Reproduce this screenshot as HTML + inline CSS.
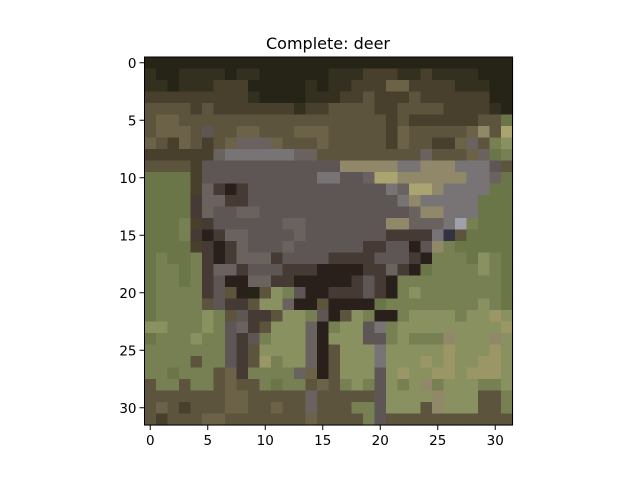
<!DOCTYPE html>
<html><head><meta charset="utf-8">
<style>
html,body{margin:0;padding:0;background:#fff;}
svg{display:block;font-family:"DejaVu Sans","Liberation Sans",sans-serif;}
</style></head>
<body>
<svg id="chart" width="640" height="478" viewBox="0 0 640 478">
<text x="328" y="49" text-anchor="middle" font-size="16">Complete: deer</text>
<g id="cells"></g>
<rect x="144.5" y="57" width="368" height="368" fill="none" stroke="#000" stroke-width="1"/>
<g id="xaxis"></g>
<g id="yaxis"></g>
</svg>
<script>
const palette = {
 D:[38,36,22], E:[52,48,32], B:[72,63,45], M:[92,84,60], N:[108,98,72],
 G:[106,118,72], H:[118,128,82], L:[138,145,96], Y:[155,150,102],
 g:[94,86,84], h:[106,98,94], d:[70,58,52], k:[42,32,27], s:[120,116,118],
 t:[145,136,106], P:[170,165,112], n:[50,50,64], w:[160,160,172], m:[110,95,95]
};
const rows = [
"DDDDDDDDDDDDDDDDDDDDDDDDDDDDDDDD",
"EDDEEEEDEEDDDDDDEEEBBBEEBEEEEDDD",
"EEDEEEBBBDDDDDEDEEBBBNNBBBBEEEDD",
"BBBBBBBBBEDDDDEEEBBMBBBMBBBBBBDD",
"MMMMBMBBBBBBBEBBMMMMBBMMMMBBBBED",
"MNNMMMMMMMMMMMMMMMMMMBMBBBBBBMMG",
"MNNNMgMMNNMMMNNNMMMMMBNMMMMMNtMP",
"NMBNMBMNhhhNMMMNMMMMMBNMMBBNhMHL",
"BBBBBBhsssssshhMMMMMMMMMhMMMNhGH",
"MMMMBggggggggggggtttttsstttsssgM",
"GGGGBggggggggggssgghPPttttttsshG",
"GGGGBhdkdggggggggggggshPPtssssGG",
"GGGGdhhddgggggggggggggstsssssGGG",
"GGGGdhgghhggggggggggggghttsssGGG",
"GGGHBdgggggghhgggggggtthhhswHGGG",
"GGGHdkdhhgggghgggggggddddsnMGGGG",
"GGGGBdkdhggghggggggddggkgtHGGGGG",
"GHGGHdkdhhhdggggddddgggdkHHHGLHG",
"GHHGHdhhdgggdddkkkkddhdkGHHHHLHG",
"GHHGHdgkkhhddkkkkkdgdkHHHHHHHHHG",
"GHHHHdgMkDMLHgkkdddgdkHLHHHHHHHG",
"GHHHHMgddMLLhkkMkkkkGHHHHHHHHLHG",
"GHHHHLHMgddMLLHgkMLHkkHLLLLHLLYL",
"LLHHHLHghdMLLLhkHLLgsHLLLLLLLLLY",
"GHHHLHHgdgHLLLhkLLLggHLHHHtLLLtL",
"HHHHHHHgdMLLLLhkMLLLsLLLLLYLLLYL",
"HHHHMHHgdMYHLLhkMLLLsLLLYLYLLYYL",
"HHGHHHMNdHHHHhNkMLLLgLYLLYYLYYYL",
"MHHMHHMNMMHGHHMNMHLHgLHLtHLLLHHL",
"MMMMMMMNNMMMMMhMMMMMgLLLLtLLLMMH",
"MNMBMMMNNMMNMMhMMMHHgLLLMtLLLMMH",
"MBMMMNNMMMMMMMNMMMMHgMMMMMMMMMMM"
];
const xTicks = [0,5,10,15,20,25,30];
const yTicks = [0,5,10,15,20,25,30];

const NS = "http://www.w3.org/2000/svg";
const x0 = 144.5, y0 = 57, W = 368, H = 368, N = 32;
const cw = W / N, ch = H / N;
function xScale(c){ return x0 + c * cw; }
function yScale(r){ return y0 + r * ch; }

const cells = document.getElementById('cells');
rows.forEach((row, r) => {
  const rr = row.padEnd(N, 'G').slice(0, N);
  for (let c = 0; c < N; c++) {
    const col = palette[rr[c]] || palette.G;
    const rect = document.createElementNS(NS, 'rect');
    rect.setAttribute('x', xScale(c).toFixed(2));
    rect.setAttribute('y', yScale(r).toFixed(2));
    rect.setAttribute('width', (cw + 0.6).toFixed(2));
    rect.setAttribute('height', (ch + 0.6).toFixed(2));
    rect.setAttribute('fill', 'rgb(' + col.join(',') + ')');
    
    
    cells.appendChild(rect);
  }
});

const xa = document.getElementById('xaxis');
xTicks.forEach(v => {
  const x = xScale(v + 0.5);
  const l = document.createElementNS(NS, 'line');
  l.setAttribute('x1', x); l.setAttribute('x2', x);
  l.setAttribute('y1', y0 + H); l.setAttribute('y2', y0 + H + 5);
  l.setAttribute('stroke', '#000');
  
  
  xa.appendChild(l);
  const t = document.createElementNS(NS, 'text');
  t.setAttribute('x', x); t.setAttribute('y', y0 + H + 20);
  t.setAttribute('text-anchor', 'middle'); t.setAttribute('font-size', '13.5');
  t.textContent = v;
  
  
  xa.appendChild(t);
});
const ya = document.getElementById('yaxis');
yTicks.forEach(v => {
  const y = yScale(v + 0.5);
  const l = document.createElementNS(NS, 'line');
  l.setAttribute('x1', x0 - 5); l.setAttribute('x2', x0);
  l.setAttribute('y1', y); l.setAttribute('y2', y);
  l.setAttribute('stroke', '#000');
  
  
  ya.appendChild(l);
  const t = document.createElementNS(NS, 'text');
  t.setAttribute('x', x0 - 8); t.setAttribute('y', y + 5);
  t.setAttribute('text-anchor', 'end'); t.setAttribute('font-size', '13.5');
  t.textContent = v;
  
  
  ya.appendChild(t);
});
</script>
</body></html>
